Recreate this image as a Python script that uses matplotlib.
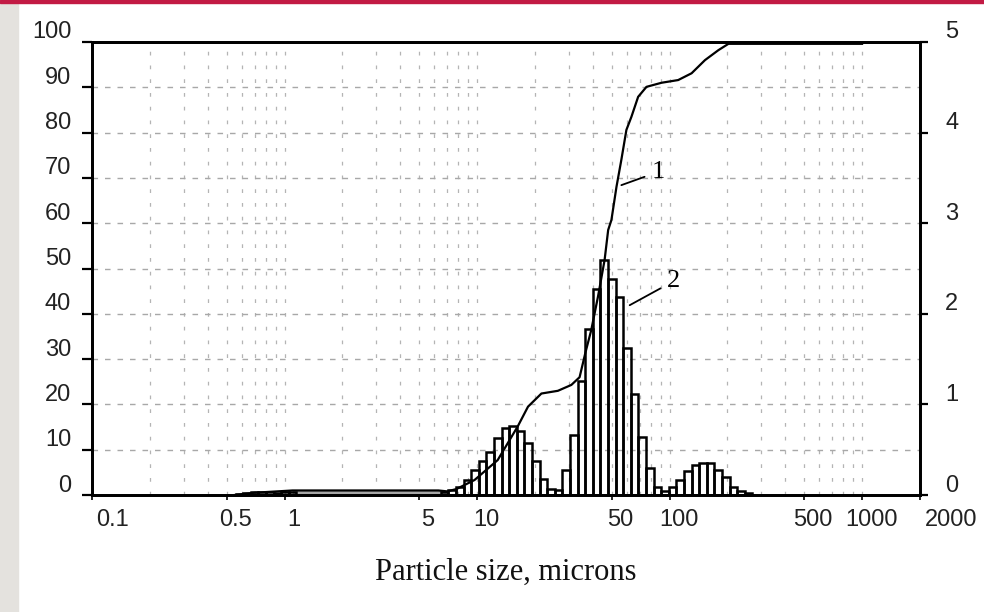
import matplotlib
matplotlib.use("Agg")
import matplotlib.pyplot as plt
import numpy as np
from matplotlib.patches import Rectangle
from matplotlib.transforms import ScaledTranslation
from matplotlib.ticker import FixedLocator, LogLocator, NullFormatter

# ============================================================
# DATA
# ============================================================
# size classes of the differential distribution (microns) -> curve 2, right axis
size_edges = [6.48, 7.10, 7.78, 8.52, 9.33, 10.21, 11.19, 12.25, 13.42, 14.69,
              16.09, 17.63, 19.30, 21.14, 23.15, 25.36, 27.77, 30.42, 33.31, 36.48,
              39.95, 43.76, 47.92, 52.49, 57.48, 62.95, 68.95, 75.51, 82.70, 90.57,
              99.19, 108.6, 119.0, 130.3, 142.7, 156.3, 171.2, 187.5, 205.3, 224.9,
              246.3, 269.7]
hist_values = [0.03, 0.05, 0.09, 0.17, 0.28, 0.37, 0.48, 0.63, 0.74, 0.76,
               0.71, 0.57, 0.37, 0.18, 0.07, 0.055, 0.28, 0.66, 1.26, 1.83,
               2.27, 2.59, 2.38, 2.18, 1.62, 1.12, 0.64, 0.30, 0.09, 0.047,
               0.09, 0.17, 0.26, 0.33, 0.35, 0.35, 0.28, 0.20, 0.09, 0.047,
               0.02]

# very fine fraction (below ~1 micron)
fine_edges = [0.56, 0.61, 0.67, 0.73, 0.80, 0.88, 0.96, 1.05, 1.15]
fine_values = [0.01, 0.025, 0.03, 0.03, 0.03, 0.02, 0.03, 0.03]

# cumulative distribution (curve 1, left axis, %)
cum_size = [0.55, 0.7, 1.1, 6.3, 7.0, 7.8, 9.7, 12.8, 16.3, 18.4, 21.6, 26.3,
            30.9, 34.1, 36.5, 39.2, 42.5, 46.0, 48.0, 49.9, 53.0, 56.2, 59.7,
            63.4, 68.7, 75.9, 90.8, 110.9, 130.2, 152.8, 179.4, 202.3, 1000]
cum_pct = [0.0, 0.5, 1.0, 1.0, 0.8, 1.3, 3.3, 7.7, 15.2, 19.5, 22.4, 23.0,
           24.3, 26.0, 31.3, 36.4, 43.8, 51.9, 58.5, 60.7, 68.0, 74.0, 80.6,
           83.5, 87.9, 90.1, 91.0, 91.6, 93.1, 96.0, 98.2, 99.6, 99.6]

x_ticks = [0.1, 0.5, 1, 5, 10, 50, 100, 500, 1000, 2000]
x_ticklabels = ["0.1", "0.5", "1", "5", "10", "50", "100", "500", "1000", "2000"]
left_ticks = list(range(0, 101, 10))
right_ticks = [0, 1, 2, 3, 4, 5]

# ============================================================
# STYLE
# ============================================================
plt.rcParams["font.family"] = ["Liberation Sans Narrow", "Liberation Sans", "DejaVu Sans"]
SERIF = ["Liberation Serif", "DejaVu Serif"]
TICK_COLOR = "#222222"


def main():
    fig = plt.figure(figsize=(9.84, 6.12), dpi=100)

    # slide decorations: grey strip on the left, red band at the top
    fig.patches.append(Rectangle((0, 0), 17.5 / 984, 1, transform=fig.transFigure,
                                 color="#e4e2de", zorder=0))
    fig.patches.append(Rectangle((0, 1 - 3 / 612), 1, 3 / 612, transform=fig.transFigure,
                                 color="#c21a44", zorder=0))

    ax = fig.add_axes([92 / 984, 117 / 612, 828 / 984, 453 / 612])
    ax2 = ax.twinx()

    # --------------------------------------------------------
    # axes / scales
    # --------------------------------------------------------
    ax.set_xscale("log")
    ax.set_xlim(0.1, 2000)
    ax.set_ylim(0, 100)
    ax2.set_ylim(0, 5)

    ax.xaxis.set_major_locator(FixedLocator(x_ticks))
    ax.set_xticklabels(x_ticklabels)
    ax.xaxis.set_minor_locator(LogLocator(base=10, subs=np.arange(1, 10)))
    ax.xaxis.set_minor_formatter(NullFormatter())
    ax.set_yticks(left_ticks)
    ax2.set_yticks(right_ticks)

    ax.grid(which="both", axis="x", linestyle=(0, (3, 8)), color="#b4b4b4", linewidth=0.9)
    ax.grid(which="major", axis="y", linestyle=(0, (4, 5)), color="#a8a8a8", linewidth=1.0)
    ax.set_axisbelow(True)

    for side in ["left", "right", "top", "bottom"]:
        ax.spines[side].set_linewidth(2)
        ax2.spines[side].set_linewidth(2)

    ax.tick_params(axis="y", which="major", direction="out", length=7, width=1.6,
                   pad=8, labelsize=17, labelcolor=TICK_COLOR)
    ax.tick_params(axis="x", which="major", direction="out", length=3.6, width=1.2,
                   pad=6.5, labelsize=17, labelcolor=TICK_COLOR)
    ax.tick_params(axis="x", which="minor", length=0)
    ax2.tick_params(axis="y", direction="out", length=6, width=1.6, pad=12,
                    labelsize=17, labelcolor=TICK_COLOR)

    # labels sit a little above their ticks in the original
    up = ScaledTranslation(0, 0.12, fig.dpi_scale_trans)
    for lbl in ax.get_yticklabels() + ax2.get_yticklabels():
        lbl.set_transform(lbl.get_transform() + up)
    for lbl, val in zip(ax.get_xticklabels(), x_ticks):
        if val in (0.1, 2000):
            lbl.set_ha("left")
            lbl.set_transform(lbl.get_transform() + ScaledTranslation(0.045, 0, fig.dpi_scale_trans))
        else:
            lbl.set_transform(lbl.get_transform() + ScaledTranslation(0.09, 0, fig.dpi_scale_trans))

    # --------------------------------------------------------
    # curve 2: histogram (right axis)
    # --------------------------------------------------------
    edges = np.array(size_edges)
    ax2.bar(edges[:-1], hist_values, width=np.diff(edges), align="edge",
            fill=False, edgecolor="black", linewidth=1.8, zorder=3)
    fedges = np.array(fine_edges)
    ax2.bar(fedges[:-1], fine_values, width=np.diff(fedges), align="edge",
            fill=False, edgecolor="black", linewidth=1.8, zorder=3)

    # --------------------------------------------------------
    # curve 1: cumulative (left axis)
    # --------------------------------------------------------
    cs = np.array(cum_size)
    cp = np.array(cum_pct)
    low = (cs >= 1.1) & (cs <= 7.0)
    ax.fill_between(cs[low], 0, cp[low], color="#a6a6a6", linewidth=0, zorder=2)
    ax2.plot(cs, cp / 20, color="black", linewidth=1.6, zorder=4, clip_on=False)

    # --------------------------------------------------------
    # curve numbers
    # --------------------------------------------------------
    ax.annotate("1", xy=(56.2, 68.4), xytext=(87, 71.3), ha="center", va="center",
                fontsize=19, family=SERIF,
                arrowprops=dict(arrowstyle="-", color="black", lw=1.3, shrinkA=3, shrinkB=0))
    ax.annotate("2", xy=(62.1, 41.9), xytext=(105, 47.2), ha="center", va="center",
                fontsize=19, family=SERIF,
                arrowprops=dict(arrowstyle="-", color="black", lw=1.3, shrinkA=3, shrinkB=0))

    ax.set_xlabel("Particle size, microns", fontsize=22, family=SERIF, color="#111111")
    ax.xaxis.set_label_coords(0.5, -(572 - 495) / 453)
    ax.xaxis.label.set_va("center")

    fig.savefig("out.png", dpi=100)
    plt.close(fig)


if __name__ == "__main__":
    main()
